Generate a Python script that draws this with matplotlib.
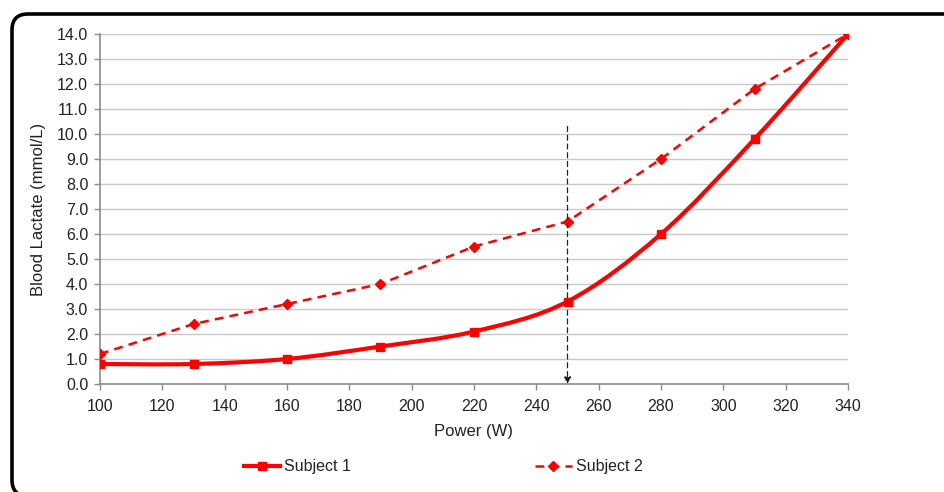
import matplotlib
matplotlib.use("Agg")
import matplotlib.pyplot as plt
import numpy as np
from matplotlib.path import Path
from matplotlib.patches import PathPatch, FancyBboxPatch
from matplotlib.lines import Line2D
from matplotlib.transforms import IdentityTransform

plt.rcParams["font.family"] = ["Liberation Sans", "DejaVu Sans"]

power = [100, 130, 160, 190, 220, 250, 280, 310, 340]
subject1 = [0.8, 0.8, 1.0, 1.5, 2.1, 3.3, 6.0, 9.8, 14.0]
subject2 = [1.2, 2.4, 3.2, 4.0, 5.5, 6.5, 9.0, 11.8, 14.0]
threshold_power = 250
threshold_top = 10.3

RED = "#ff0000"
DASH = (0, (3.5, 2.5))


def smooth_path(xs, ys, tension=1 / 6):
    # Excel-style smoothed line: cubic bezier through each point
    pts = np.column_stack([xs, ys]).astype(float)
    verts = [pts[0]]
    codes = [Path.MOVETO]
    n = len(pts)
    for i in range(n - 1):
        p0 = pts[i - 1] if i > 0 else pts[i]
        p1 = pts[i]
        p2 = pts[i + 1]
        p3 = pts[i + 2] if i + 2 < n else pts[i + 1]
        c1 = p1 + (p2 - p0) * tension
        c2 = p2 - (p3 - p1) * tension
        verts += [c1, c2, p2]
        codes += [Path.CURVE4] * 3
    return Path(verts, codes)


fig = plt.figure(figsize=(9.44, 4.92), dpi=100)
# rounded frame, in pixels (runs off the right and bottom edges)
frame = FancyBboxPatch((12, -4), 960, 482,
                       boxstyle="round,pad=0,rounding_size=16",
                       transform=IdentityTransform(), fill=False,
                       edgecolor="black", linewidth=2.6, clip_on=False)
fig.patches.append(frame)

ax = fig.add_axes([100 / 944, 108 / 492, 748 / 944, 350 / 492])

ax.add_patch(PathPatch(smooth_path(power, subject1), facecolor="none",
                       edgecolor=RED, linewidth=3, zorder=3))
ax.plot(power, subject1, linestyle="none", marker="s", markersize=6,
        color=RED, zorder=4)
ax.plot(power, subject2, linestyle=DASH, linewidth=1.8, marker="D",
        markersize=5, color=RED, zorder=4)

ax.annotate("", xy=(threshold_power, 0), xytext=(threshold_power, threshold_top),
            arrowprops=dict(arrowstyle="-|>", linestyle=(0, (4, 3)), color="#222222",
                            linewidth=0.9, mutation_scale=10, shrinkA=0, shrinkB=0),
            zorder=5)

ax.set_xlim(100, 340)
ax.set_ylim(0, 14)
ax.set_xticks(np.arange(100, 341, 20))
ax.set_yticks(np.arange(0, 14.1, 1))
ax.set_yticklabels([f"{v:.1f}" for v in np.arange(0, 14.1, 1)])
ax.grid(axis="y", color="#c8c8c8", linewidth=1)
ax.set_axisbelow(True)
for s in ["top", "right"]:
    ax.spines[s].set_visible(False)
for s in ["left", "bottom"]:
    ax.spines[s].set_color("#8c8c8c")
    ax.spines[s].set_linewidth(1.2)
ax.tick_params(axis="both", colors="#8c8c8c", labelcolor="#222222", labelsize=11.5,
               length=4, width=1)
ax.tick_params(axis="x", pad=7)
ax.tick_params(axis="y", pad=4.5)
ax.set_xlabel("Power (W)", fontsize=12, labelpad=7, color="#222222")
ax.set_ylabel("Blood Lactate (mmol/L)", fontsize=12, labelpad=8, color="#222222")

h1 = Line2D([], [], color=RED, linewidth=3, marker="s", markersize=6)
h2 = Line2D([], [], color=RED, linestyle=DASH, linewidth=1.8,
            marker="D", markersize=5)
fig.legend([h1, h2], ["Subject 1", "Subject 2"], loc="center",
           bbox_to_anchor=(443 / 944, 1 - 467 / 492), ncol=2, frameon=False,
           fontsize=11.5, columnspacing=11.5, handlelength=2.3, handletextpad=0.25,
           labelcolor="#222222")

fig.savefig("out.png", dpi=100)
